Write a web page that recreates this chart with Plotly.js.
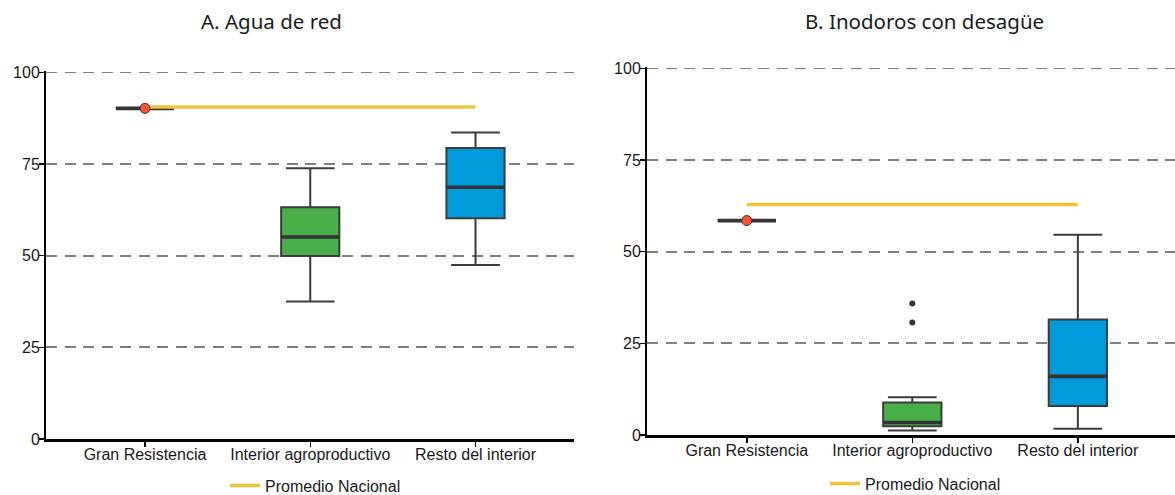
<!DOCTYPE html>
<html>
<head>
<meta charset="utf-8">
<script src="https://cdn.plot.ly/plotly-3.0.1.min.js"></script>
<style>html,body{margin:0;padding:0;background:#fff;}#chart{width:1175px;height:495px;}</style>
</head>
<body>
<div id="chart"></div>
<script>
// ---- Data ----
const categories = ["Gran Resistencia", "Interior agroproductivo", "Resto del interior"];

// Panel A: Agua de red
const aLower  = [90.2, 37.5, 47.5];
const aQ1     = [90.2, 49.9, 60.2];
const aMedian = [90.2, 55.1, 68.7];
const aQ3     = [90.2, 63.2, 79.4];
const aUpper  = [90.2, 73.9, 83.6];
const aPoint  = [90.2];          // Gran Resistencia value
const aNacional = 90.6;          // Promedio Nacional

// Panel B: Inodoros con desagüe
const bLower  = [58.5, 1.2, 1.7];
const bQ1     = [58.5, 2.4, 7.9];
const bMedian = [58.5, 3.4, 16.0];
const bQ3     = [58.5, 8.9, 31.5];
const bUpper  = [58.5, 10.3, 54.6];
const bPoint  = [58.5];
const bOutliers = [35.9, 30.7];  // Interior agroproductivo outliers
const bNacional = 62.9;

const titles = ["A. Agua de red", "B. Inodoros con desagüe"];
const legendName = "Promedio Nacional";
const yTicks = [0, 25, 50, 75, 100];
const boxColors = ["#ffffff", "#4aaf4a", "#0099da"];

// ---- Traces ----
const W = 1175, H = 495;
const BOXW = 0.352;
function boxTraces(xa, ya, lo, q1, med, q3, up) {
  const t = categories.map((c, i) => ({
    type: "box", xaxis: xa, yaxis: ya,
    x: [c], lowerfence: [lo[i]], q1: [q1[i]], median: [med[i]], q3: [q3[i]], upperfence: [up[i]],
    width: BOXW, whiskerwidth: 0.837, boxpoints: false,
    fillcolor: boxColors[i], line: {color: "#3c3c3c", width: 2},
    showlegend: false, hoverinfo: "skip"
  }));
  // thicker median bars (degenerate boxes at the median value)
  categories.forEach((c, i) => t.push({
    type: "box", xaxis: xa, yaxis: ya,
    x: [c], lowerfence: [med[i]], q1: [med[i]], median: [med[i]], q3: [med[i]], upperfence: [med[i]],
    width: BOXW, whiskerwidth: 0, boxpoints: false,
    fillcolor: "rgba(0,0,0,0)", line: {color: "#333333", width: 3.6},
    showlegend: false, hoverinfo: "skip"
  }));
  return t;
}
const traces = [];
traces.push(...boxTraces("x", "y", aLower, aQ1, aMedian, aQ3, aUpper));
traces.push(...boxTraces("x2", "y2", bLower, bQ1, bMedian, bQ3, bUpper));

traces.push({type: "scatter", mode: "markers", xaxis: "x2", yaxis: "y2",
  x: bOutliers.map(() => categories[1]), y: bOutliers,
  marker: {color: "#383838", size: 6}, showlegend: false, hoverinfo: "skip"});

traces.push({type: "scatter", mode: "lines", xaxis: "x", yaxis: "y",
  x: [categories[0], categories[2]], y: [aNacional, aNacional],
  line: {color: "#f0c43c", width: 3.5}, name: legendName, legend: "legend", showlegend: true});
traces.push({type: "scatter", mode: "lines", xaxis: "x2", yaxis: "y2",
  x: [categories[0], categories[2]], y: [bNacional, bNacional],
  line: {color: "#f0c43c", width: 3.5}, name: legendName, legend: "legend2", showlegend: true});

traces.push({type: "scatter", mode: "markers", xaxis: "x", yaxis: "y",
  x: [categories[0]], y: aPoint,
  marker: {color: "#f0553a", size: 10, line: {color: "#5a2a1a", width: 1}}, showlegend: false});
traces.push({type: "scatter", mode: "markers", xaxis: "x2", yaxis: "y2",
  x: [categories[0]], y: bPoint,
  marker: {color: "#f0553a", size: 10, line: {color: "#5a2a1a", width: 1}}, showlegend: false});

// ---- Layout ----
const tickFont = {family: "Liberation Sans, Arial, sans-serif", size: 16, color: "#1a1a1a"};
function yAxis(anchor, top, bottom) {
  return {anchor: anchor, domain: [1 - bottom / H, 1 - top / H], range: [0, 100.4],
    tickvals: yTicks, ticks: "outside", ticklen: 5, tickcolor: "#000", tickwidth: 1.5,
    ticklabelstandoff: -4,
    showline: true, linecolor: "#000", linewidth: 2, zeroline: false,
    showgrid: true, gridcolor: "#808080", gridwidth: 1.8, griddash: "11px,7.5px",
    tickfont: tickFont, fixedrange: true};
}
function xAxis(anchor, left, right, range) {
  return {anchor: anchor, domain: [left / W, right / W], type: "category", range: range,
    ticks: "outside", ticklen: 5, tickcolor: "#000", tickwidth: 1.5,
    ticklabelstandoff: -6,
    showline: true, linecolor: "#000", linewidth: 2.5, showgrid: false, zeroline: false,
    tickfont: tickFont, fixedrange: true};
}
const titleFont = {family: "Noto Sans, Open Sans, sans-serif", size: 20.5, color: "#1a1a1a"};
const legendFont = {family: "Liberation Sans, Arial, sans-serif", size: 16, color: "#1a1a1a"};
const layout = {
  width: W, height: H, margin: {l: 0, r: 0, t: 0, b: 0, autoexpand: false},
  paper_bgcolor: "#fff", plot_bgcolor: "#fff", boxmode: "overlay",
  xaxis: xAxis("y", 46, 574, [-0.599, 2.596]),
  yaxis: yAxis("x", 71, 439),
  xaxis2: xAxis("y2", 647, 1175, [-0.603, 2.587]),
  yaxis2: yAxis("x2", 67, 435),
  legend: {x: 225 / W, xanchor: "left", y: 1 - 485.5 / H, yanchor: "middle", font: legendFont, bgcolor: "rgba(0,0,0,0)"},
  legend2: {x: 825 / W, xanchor: "left", y: 1 - 483.5 / H, yanchor: "middle", font: legendFont, bgcolor: "rgba(0,0,0,0)"},
  annotations: [
    {text: titles[0], xref: "paper", yref: "paper", x: 271.5 / W, y: 1 - 21 / H, xanchor: "center", yanchor: "middle", showarrow: false, font: titleFont},
    {text: titles[1], xref: "paper", yref: "paper", x: 924 / W, y: 1 - 21 / H, xanchor: "center", yanchor: "middle", showarrow: false, font: titleFont}
  ],
  showlegend: true
};
Plotly.newPlot("chart", traces, layout, {displayModeBar: false, staticPlot: true});
</script>
</body>
</html>
